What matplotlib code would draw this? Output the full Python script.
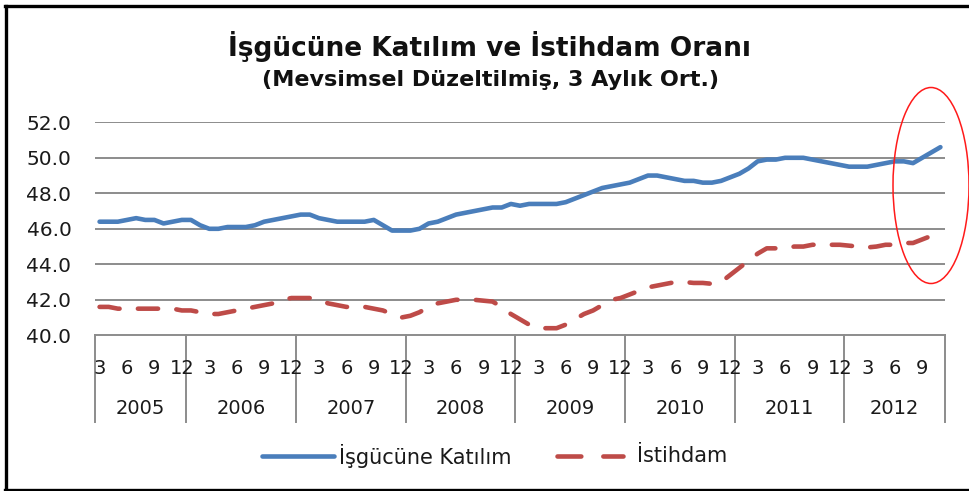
import matplotlib
matplotlib.use("Agg")
import matplotlib.pyplot as plt
from matplotlib.patches import Ellipse
from matplotlib.lines import Line2D
import matplotlib.transforms as mtransforms

# ---------------- data ----------------
years = ["2005", "2006", "2007", "2008", "2009", "2010", "2011", "2012"]
months_per_year = [10, 12, 12, 12, 12, 12, 12, 11]   # Mar 2005 .. Nov 2012
first_month = 3
yticks = [40.0, 42.0, 44.0, 46.0, 48.0, 50.0, 52.0]

isgucu = [46.4, 46.4, 46.4, 46.5, 46.6, 46.5, 46.5, 46.3, 46.4, 46.5,
          46.5, 46.2, 46.0, 46.0, 46.1, 46.1, 46.1, 46.2, 46.4, 46.5,
          46.6, 46.7, 46.8, 46.8, 46.6, 46.5, 46.4, 46.4, 46.4, 46.4,
          46.5, 46.2, 45.9, 45.9, 45.9, 46.0, 46.3, 46.4, 46.6, 46.8,
          46.9, 47.0, 47.1, 47.2, 47.2, 47.4, 47.3, 47.4, 47.4, 47.4,
          47.4, 47.5, 47.7, 47.9, 48.1, 48.3, 48.4, 48.5, 48.6, 48.8,
          49.0, 49.0, 48.9, 48.8, 48.7, 48.7, 48.6, 48.6, 48.7, 48.9,
          49.1, 49.4, 49.8, 49.9, 49.9, 50.0, 50.0, 50.0, 49.9, 49.8,
          49.7, 49.6, 49.5, 49.5, 49.5, 49.6, 49.7, 49.8, 49.8, 49.7,
          50.0, 50.3, 50.6]

istihdam = [41.6, 41.6, 41.5, 41.5, 41.5, 41.5, 41.5, 41.5, 41.5, 41.4,
            41.4, 41.3, 41.2, 41.2, 41.3, 41.4, 41.5, 41.6, 41.7, 41.8,
            42.0, 42.1, 42.1, 42.1, 42.0, 41.8, 41.7, 41.6, 41.6, 41.6,
            41.5, 41.4, 41.2, 41.0, 41.1, 41.3, 41.6, 41.8, 41.9, 42.0,
            42.0, 42.0, 41.95, 41.9, 41.6, 41.2, 40.9, 40.6, 40.4, 40.4,
            40.4, 40.6, 40.9, 41.2, 41.4, 41.7, 42.0, 42.1, 42.3, 42.5,
            42.7, 42.8, 42.9, 43.0, 43.0, 42.95, 42.95, 42.9, 43.0, 43.4,
            43.8, 44.2, 44.6, 44.9, 44.9, 44.9, 45.0, 45.0, 45.1, 45.1,
            45.1, 45.1, 45.05, 45.0, 44.95, 45.0, 45.1, 45.1, 45.2, 45.2,
            45.4, 45.6, 45.9]

series_names = ["İşgücüne Katılım", "İstihdam"]
title = "İşgücüne Katılım ve İstihdam Oranı"
subtitle = "(Mevsimsel Düzeltilmiş, 3 Aylık Ort.)"

blue = "#4A7EBB"
red = "#BE4B48"
grid_c = "#8C8C8C"
txt_c = "#1a1a1a"
FONT = "DejaVu Sans"

# month labels for each category
month_labels = []
for yi, n in enumerate(months_per_year):
    start = first_month if yi == 0 else 1
    for m in range(start, start + n):
        month_labels.append(m)
n_cat = len(month_labels)
x = list(range(n_cat))

fig = plt.figure(figsize=(9.70, 4.91), dpi=100)
W, H = 970, 491
ax = fig.add_axes([95 / W, 1 - 335.3 / H, 850 / W, (335.3 - 122.3) / H])

ax.plot(x, isgucu, color=blue, lw=3.3, solid_capstyle="round", solid_joinstyle="round", zorder=3)
ax.plot(x, istihdam, color=red, lw=3.3, dashes=(4.4, 4.0), dash_capstyle="round", zorder=3)

ax.set_xlim(-0.5, n_cat - 0.5)
ax.set_ylim(40, 52)
ax.set_yticks(yticks)
ax.set_yticklabels([f"{v:.1f}" for v in yticks], fontsize=14.5, color=txt_c, family=FONT)
ax.tick_params(axis="y", length=0, pad=17)
ax.set_xticks([])
for v in yticks[1:]:
    ax.axhline(v, color=grid_c, lw=1.4, zorder=1)
for s in ["top", "right", "left"]:
    ax.spines[s].set_visible(False)
ax.spines["bottom"].set_color(grid_c)
ax.spines["bottom"].set_linewidth(1.4)

# category axis: month labels, year labels and separators
trans = mtransforms.blended_transform_factory(ax.transData, ax.transAxes)
ax_h_px = 335.3 - 122.3
for i, m in enumerate(month_labels):
    if (i % 3) == 0:
        ax.text(i, -(368 - 335.3) / ax_h_px, str(m), transform=trans, ha="center",
                va="center", fontsize=14, color=txt_c, family=FONT)
pos = -0.5
bounds = [pos]
for yi, n in enumerate(months_per_year):
    ax.text(pos + n / 2, -(409 - 335.3) / ax_h_px, years[yi], transform=trans,
            ha="center", va="center", fontsize=14, color=txt_c, family=FONT)
    pos += n
    bounds.append(pos)
for b in bounds:
    ax.plot([b, b], [0, -(422 - 335.3) / ax_h_px], transform=trans, color=grid_c,
            lw=1.4, clip_on=False, zorder=2)

# titles
fig.text(490 / W, 1 - 46 / H, title, ha="center", va="center", fontsize=19,
         fontweight="bold", family=FONT, color="#111111")
fig.text(491 / W, 1 - 80 / H, subtitle, ha="center", va="center", fontsize=16,
         fontweight="bold", family=FONT, color="#111111")

# legend
fig.add_artist(Line2D([262 / W, 334 / W], [1 - 456 / H] * 2, color=blue, lw=3.3,
                      solid_capstyle="round"))
fig.text(339 / W, 1 - 456 / H, series_names[0], ha="left", va="center",
         fontsize=15, family=FONT, color=txt_c)
fig.add_artist(Line2D([557 / W, 623 / W], [1 - 456 / H] * 2, color=red, lw=3.3,
                      dashes=(5.2, 4.8), dash_capstyle="round"))
fig.text(637 / W, 1 - 456 / H, series_names[1], ha="left", va="center",
         fontsize=15, family=FONT, color=txt_c)

# red ellipse annotation
fig.add_artist(Ellipse((931 / W, 1 - 185.5 / H), 76 / W, 196 / H, fill=False,
                       edgecolor="#FF1A1A", lw=1.1))

# frame
fig.add_artist(Line2D([6.5 / W, 6.5 / W], [0, 1 - 6 / H], color="black", lw=2.4))
fig.add_artist(Line2D([5 / W, 1], [1 - 6 / H] * 2, color="black", lw=2.4))
fig.add_artist(Line2D([5 / W, 1], [1 - 489.5 / H] * 2, color="black", lw=2.4))

fig.savefig("out.png", dpi=100)
